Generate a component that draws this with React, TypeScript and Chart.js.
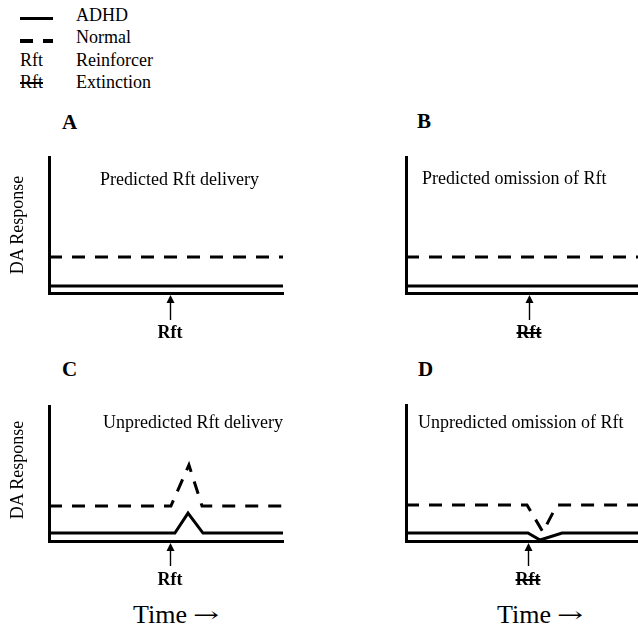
import React, { useEffect, useRef } from "react";
import { Chart, registerables } from "chart.js";

Chart.register(...registerables);

// ---------- DATA (time 0..100, DA response 0..100) ----------
const timeA = [0, 100];
const adhdA = [5.1, 5.1];
const normalA = [26.5, 26.5];

const timeB = [0, 100];
const adhdB = [5.1, 5.1];
const normalB = [26.5, 26.5];

const timeCAdhd = [0, 53.8, 59.4, 65.8, 100];
const adhdC = [5.9, 5.9, 20.7, 5.9, 5.9];
const timeCNormal = [0, 52.1, 59.8, 65.4, 100];
const normalC = [25.9, 25.9, 56.3, 25.9, 25.9];

const timeDAdhd = [0, 52.1, 57.3, 66.7, 100];
const adhdD = [5.9, 5.9, 0.7, 5.9, 5.9];
const timeDNormal = [0, 51.7, 58.5, 64.5, 100];
const normalD = [26.5, 26.5, 6.6, 26.5, 26.5];

const rftTimes = [51.7, 52.6, 51.7, 52.3];

const panelLetters = ["A", "B", "C", "D"];
const panelTitles = [
  "Predicted Rft delivery",
  "Predicted omission of Rft",
  "Unpredicted Rft delivery",
  "Unpredicted omission of Rft",
];
const legendLabels = ["ADHD", "Normal", "Reinforcer", "Extinction"];
const rftLabel = "Rft";
const yAxisLabel = "DA Response";
const xAxisWord = "Time";
const xAxisArrow = "\u2192";

// ---------- LAYOUT ----------
const FONT = '"Liberation Serif", "Times New Roman", Times, serif';

type Geo = { cl: number; ct: number; cw: number; ch: number; l: number; t: number; r: number; b: number };
const geos: Geo[] = [
  { cl: 0, ct: 140, cw: 320, ch: 210, l: 49, t: 157, r: 283, b: 293 },
  { cl: 340, ct: 140, cw: 320, ch: 210, l: 406, t: 157, r: 640, b: 293 },
  { cl: 0, ct: 385, cw: 320, ch: 210, l: 49, t: 406, r: 283, b: 541 },
  { cl: 340, ct: 385, cw: 320, ch: 210, l: 406, t: 405, r: 640, b: 541 },
];

const zip = (xs: number[], ys: number[]) => xs.map((x, i) => ({ x, y: ys[i] }));

const arrowPlugin = {
  id: "rftArrow",
  afterDraw(chart: any, _args: any, opts: any) {
    const ctx = chart.ctx;
    const x = Math.round(chart.scales.x.getPixelForValue(opts.value)) + 0.5;
    const tip = chart.chartArea.bottom + 2;
    const end = tip + opts.length;
    ctx.save();
    ctx.strokeStyle = "#000";
    ctx.fillStyle = "#000";
    ctx.lineWidth = 1.4;
    ctx.beginPath();
    ctx.moveTo(x, tip + 5);
    ctx.lineTo(x, end);
    ctx.stroke();
    ctx.beginPath();
    ctx.moveTo(x, tip);
    ctx.lineTo(x - 4, tip + 8);
    ctx.lineTo(x + 4, tip + 8);
    ctx.closePath();
    ctx.fill();
    ctx.restore();
  },
};

function Panel({ geo, adhd, normal, rft, arrowLen }: { geo: Geo; adhd: any[]; normal: any[]; rft: number; arrowLen: number }) {
  const ref = useRef<HTMLCanvasElement>(null);
  useEffect(() => {
    if (!ref.current) return;
    const chart = new Chart(ref.current, {
      type: "line",
      data: {
        datasets: [
          {
            label: "ADHD",
            data: adhd,
            borderColor: "#000",
            borderWidth: 3,
            pointRadius: 0,
            tension: 0,
            fill: false,
          },
          {
            label: "Normal",
            data: normal,
            borderColor: "#000",
            borderWidth: 3,
            borderDash: [13, 10],
            pointRadius: 0,
            tension: 0,
            fill: false,
          },
        ],
      },
      options: {
        animation: false,
        responsive: false,
        maintainAspectRatio: false,
        events: [],
        layout: {
          padding: {
            left: geo.l - geo.cl,
            top: geo.t - geo.ct,
            right: geo.cl + geo.cw - geo.r,
            bottom: geo.ct + geo.ch - geo.b,
          },
        },
        scales: {
          x: {
            type: "linear",
            min: 0,
            max: 100,
            ticks: { display: false },
            grid: { display: false, drawTicks: false },
            border: { display: true, width: 3, color: "#000" },
          },
          y: {
            type: "linear",
            min: 0,
            max: 100,
            ticks: { display: false },
            grid: { display: false, drawTicks: false },
            border: { display: true, width: 3, color: "#000" },
          },
        },
        plugins: {
          legend: { display: false },
          tooltip: { enabled: false },
          rftArrow: { value: rft, length: arrowLen },
        } as any,
      },
      plugins: [arrowPlugin],
    });
    return () => chart.destroy();
  }, []);
  return (
    <canvas
      ref={ref}
      width={geo.cw}
      height={geo.ch}
      style={{ position: "absolute", left: geo.cl, top: geo.ct, width: geo.cw, height: geo.ch }}
    />
  );
}

function Txt({
  x,
  baseline,
  size,
  bold,
  center,
  strike,
  children,
}: {
  x: number;
  baseline: number;
  size: number;
  bold?: boolean;
  center?: boolean;
  strike?: boolean;
  children: React.ReactNode;
}) {
  return (
    <div
      style={{
        position: "absolute",
        left: x,
        top: baseline - 0.8375 * size,
        fontSize: size,
        lineHeight: 1,
        fontWeight: bold ? "bold" : "normal",
        whiteSpace: "nowrap",
        transform: center ? "translateX(-50%)" : undefined,
        textDecoration: strike ? "line-through" : undefined,
        textDecorationThickness: strike ? "1.5px" : undefined,
      }}
    >
      {children}
    </div>
  );
}

export default function App() {
  const adhdSets = [zip(timeA, adhdA), zip(timeB, adhdB), zip(timeCAdhd, adhdC), zip(timeDAdhd, adhdD)];
  const normalSets = [zip(timeA, normalA), zip(timeB, normalB), zip(timeCNormal, normalC), zip(timeDNormal, normalD)];
  const letterPos = [
    [62, 130],
    [417, 129],
    [62, 377],
    [418, 377],
  ];
  const titlePos = [
    [100, 185],
    [422, 184],
    [103, 428],
    [418, 428],
  ];
  const rftPos = [
    [170, 338, false],
    [529, 338, true],
    [170, 585, false],
    [528, 585, true],
  ] as [number, number, boolean][];
  return (
    <div
      style={{
        position: "absolute",
        left: 0,
        top: 0,
        width: 638,
        height: 630,
        overflow: "hidden",
        background: "#fff",
        fontFamily: FONT,
        color: "#000",
      }}
    >
      {/* legend */}
      <div style={{ position: "absolute", left: 20, top: 17, width: 33, height: 3, background: "#000" }} />
      <div style={{ position: "absolute", left: 20, top: 39, width: 13, height: 4, background: "#000" }} />
      <div style={{ position: "absolute", left: 43, top: 39, width: 10, height: 4, background: "#000" }} />
      <Txt x={20} baseline={66.5} size={18}>{rftLabel}</Txt>
      <Txt x={20} baseline={88} size={18} strike>{rftLabel}</Txt>
      <Txt x={76} baseline={20.7} size={18}>{legendLabels[0]}</Txt>
      <Txt x={76} baseline={43} size={18}>{legendLabels[1]}</Txt>
      <Txt x={76} baseline={66.5} size={18}>{legendLabels[2]}</Txt>
      <Txt x={76} baseline={88} size={18}>{legendLabels[3]}</Txt>

      {geos.map((g, i) => (
        <Panel key={i} geo={g} adhd={adhdSets[i]} normal={normalSets[i]} rft={rftTimes[i]} arrowLen={i < 2 ? 25 : 23} />
      ))}

      {panelLetters.map((l, i) => (
        <Txt key={"l" + i} x={letterPos[i][0]} baseline={letterPos[i][1]} size={21} bold>
          {l}
        </Txt>
      ))}
      {panelTitles.map((t, i) => (
        <Txt key={"t" + i} x={titlePos[i][0]} baseline={titlePos[i][1]} size={18}>
          {t}
        </Txt>
      ))}
      {rftPos.map((p, i) => (
        <Txt key={"r" + i} x={p[0]} baseline={p[1]} size={18} bold center strike={p[2]}>
          {rftLabel}
        </Txt>
      ))}
      {[225, 470].map((cy, i) => (
        <div
          key={"y" + i}
          style={{
            position: "absolute",
            left: 17,
            top: cy,
            fontSize: 18,
            lineHeight: 1,
            whiteSpace: "nowrap",
            transform: "translate(-50%, -50%) rotate(-90deg)",
          }}
        >
          {yAxisLabel}
        </div>
      ))}
      {[133, 497].map((x, i) => (
        <Txt key={"x" + i} x={x} baseline={624} size={26}>
          {xAxisWord}
          <span
            style={{
              fontFamily: '"DejaVu Serif", serif',
              display: "inline-block",
              marginLeft: 6,
              transform: "scaleX(1.3) scaleY(0.85)",
              transformOrigin: "left center",
              fontSize: 24,
            }}
          >
            {xAxisArrow}
          </span>
        </Txt>
      ))}
    </div>
  );
}
